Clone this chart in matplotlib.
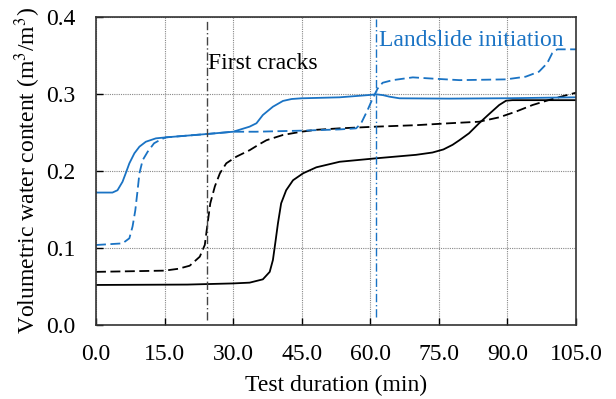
import numpy as np
import matplotlib
matplotlib.use('Agg')
import matplotlib.pyplot as plt

plt.rcParams['font.family'] = ['Liberation Serif', 'DejaVu Serif']
plt.rcParams['mathtext.fontset'] = 'stix'

blue = '#1a73c4'

# blue solid
t_bs = [0, 3.6, 4.7, 5.8, 6.5, 7.3, 8.4, 9.5, 10.9, 13.1, 15.3, 24.2, 30, 33.6, 35.1, 36.5, 38.7, 40.9, 42.8,
        44.9, 53.3, 59.8, 61.3, 62.8, 64.2, 66.4, 77.3, 90, 105]
v_bs = [0.172, 0.172, 0.175, 0.186, 0.197, 0.210, 0.223, 0.2316, 0.238, 0.2424, 0.2437, 0.248, 0.251, 0.2576, 0.262,
        0.2727, 0.2835, 0.291, 0.2935, 0.2944, 0.2957, 0.2987, 0.2996, 0.2985, 0.2965, 0.2944, 0.294, 0.2945, 0.2957]

# blue dashed
t_bd = [0, 5.8, 7.3, 8.0, 8.6, 9.1, 9.5, 10.2, 11.3, 12.7, 14.2, 15.3, 24.2, 30, 35, 44.9, 53.3, 56.9, 58, 59.4,
        60.5, 61.6, 62.7, 64.9, 69.3, 73.6, 79.5, 89.7, 94, 96.9, 98.7, 99.8, 100.9, 105]
v_bd = [0.1039, 0.106, 0.1126, 0.128, 0.149, 0.175, 0.197, 0.214, 0.225, 0.236, 0.241, 0.2437, 0.248, 0.251, 0.251,
        0.2524, 0.254, 0.2554, 0.262, 0.279, 0.294, 0.307, 0.3146, 0.318, 0.3216, 0.320, 0.318, 0.319, 0.3225, 0.329,
        0.340, 0.353, 0.358, 0.358]

# black dashed
t_kd = [0, 15, 18, 20.5, 22.7, 23.8, 24.5, 25.0, 26.0, 27.1, 28.5, 30.7, 33.6, 35.8, 37.3, 40.9, 44.9, 48.2, 53.3,
        61.3, 70, 77.3, 83.8, 88.2, 91.8, 95.5, 99.8, 105]
v_kd = [0.069, 0.0706, 0.073, 0.077, 0.0887, 0.104, 0.136, 0.158, 0.180, 0.197, 0.210, 0.2186, 0.227, 0.235, 0.240,
        0.2468, 0.251, 0.2535, 0.2554, 0.2576, 0.2595, 0.262, 0.264, 0.2697, 0.277, 0.2857, 0.2935, 0.3017]

# black solid
t_ks = [0, 20, 30, 33.6, 36.5, 38.0, 38.7, 39.3, 39.8, 40.5, 41.6, 43.1, 45.3, 48.2, 53.3, 61.3, 70, 73.6, 76,
        78, 79.5, 81.6, 83.8, 86, 88.2, 89.7, 91.1, 105]
v_ks = [0.052, 0.0525, 0.054, 0.055, 0.0593, 0.069, 0.0844, 0.110, 0.132, 0.158, 0.175, 0.188, 0.197, 0.2048, 0.212,
        0.2165, 0.221, 0.224, 0.228, 0.234, 0.240, 0.249, 0.262, 0.274, 0.2857, 0.2913, 0.292, 0.292]

first_cracks = 24.2
landslide = 61.3

fig = plt.figure(figsize=(6.16, 3.99), dpi=100)
ax = fig.add_axes([96/616, 1 - 325/399, 480/616, 308/399])

ax.plot(t_ks, v_ks, color='black', lw=1.3)
ax.plot(t_kd, v_kd, color='black', lw=1.3, dashes=(5.5, 2.5))
ax.plot(t_bs, v_bs, color=blue, lw=1.3)
ax.plot(t_bd, v_bd, color=blue, lw=1.3, dashes=(5.5, 2.5))

ax.plot([first_cracks, first_cracks], [0.006, 0.398], color='#444444', lw=1.0, dashes=(6, 2, 1, 2))
ax.plot([landslide, landslide], [0.011, 0.398], color=blue, lw=1.0, dashes=(6, 2, 1, 2))

ax.text(24.6, 0.339, 'First cracks', fontsize=17, va='center', ha='left', color='black')
ax.text(62.0, 0.370, 'Landslide initiation', fontsize=17, va='center', ha='left', color=blue)

ax.set_xlim(0, 105)
ax.set_ylim(0, 0.4)
ax.set_xticks(np.arange(0, 106, 15))
ax.set_xticklabels([f'{v:.1f}' for v in np.arange(0, 106, 15)])
ax.set_yticks(np.arange(0, 0.41, 0.1))
ax.set_yticklabels([f'{v:.1f}' for v in np.arange(0, 0.41, 0.1)])
ax.tick_params(direction='in', labelsize=17, length=5, width=1)
ax.tick_params(axis='y', pad=15)
ax.tick_params(axis='x', pad=14)
ax.grid(True, color='#888888', ls=(0, (1, 1)), lw=0.8)
for s in ax.spines.values():
    s.set_linewidth(1.2)
    s.set_color('#333333')

ax.set_xlabel('Test duration (min)', fontsize=17, labelpad=7)
ax.set_ylabel('Volumetric water content (m$^3$/m$^3$)', fontsize=17, labelpad=2)

fig.savefig('out.png', dpi=100)
